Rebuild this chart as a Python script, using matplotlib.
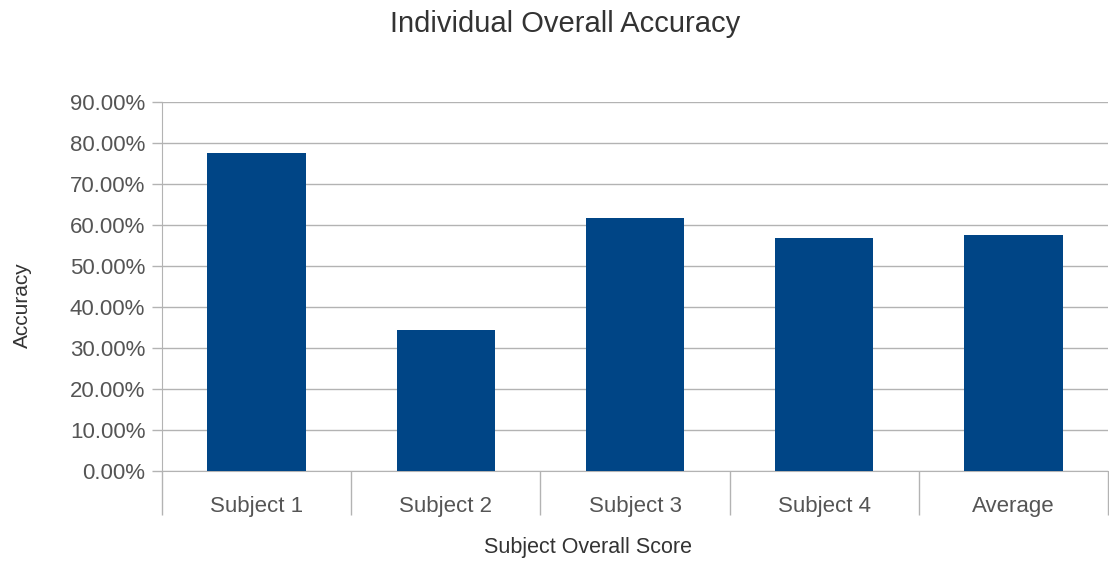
import numpy as np
import matplotlib.pyplot as plt
from matplotlib.ticker import FuncFormatter, FixedLocator

## DATA
subjects = ['Subject 1', 'Subject 2', 'Subject 3', 'Subject 4', 'Average']
accuracy = [0.776, 0.343, 0.617, 0.567, 0.575]
y_ticks = np.arange(0, 0.91, 0.1)

## STYLE
plt.rcParams['font.family'] = ['Liberation Sans', 'DejaVu Sans']
text_col = '#555555'
grid_col = '#b3b3b3'
bar_col = '#004586'

fig = plt.figure(figsize=(11.09, 5.62), dpi=100)
ax = fig.add_axes([0.1461, 0.1628, 0.853, 0.6557])

x = np.arange(len(subjects))
ax.bar(x, accuracy, width=0.52, color=bar_col, zorder=3)

ax.set_xlim(-0.5, len(subjects) - 0.5)
ax.set_ylim(0, 0.9)
ax.set_yticks(y_ticks)
ax.yaxis.set_major_formatter(FuncFormatter(lambda v, p: '%.2f%%' % (v * 100)))
ax.grid(axis='y', color=grid_col, linewidth=1, zorder=0)

ax.set_xticks(x)
ax.set_xticklabels(subjects)
ax.xaxis.set_minor_locator(FixedLocator(np.arange(-0.5, len(subjects), 1.0)))
ax.tick_params(axis='x', which='major', length=0, pad=18, labelsize=16, labelcolor=text_col)
ax.tick_params(axis='x', which='minor', length=32, width=1, color=grid_col, direction='out')
ax.tick_params(axis='y', length=7, width=1, color=grid_col, pad=5, labelsize=16, labelcolor=text_col)

for s in ['top', 'right']:
    ax.spines[s].set_visible(False)
for s in ['left', 'bottom']:
    ax.spines[s].set_color(grid_col)

fig.text(0.51, 0.958, 'Individual Overall Accuracy', ha='center', va='center', fontsize=21, color='#333333')
fig.text(0.53, 0.025, 'Subject Overall Score', ha='center', va='center', fontsize=15.5, color='#333333')
fig.text(0.02, 0.457, 'Accuracy', ha='center', va='center', rotation=90, fontsize=15, color='#333333')

plt.savefig('out.png', dpi=100)
